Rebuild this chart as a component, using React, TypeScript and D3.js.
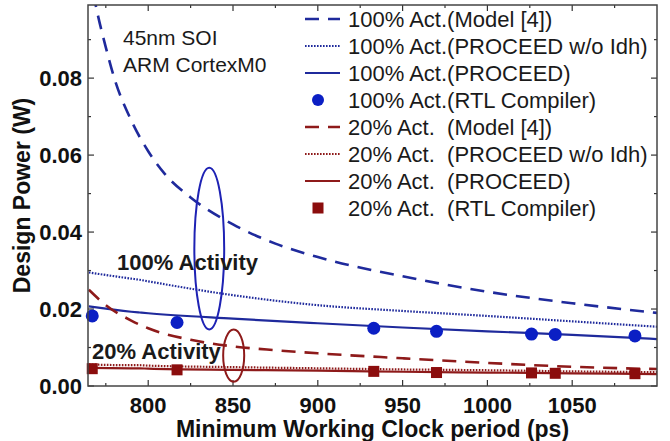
import React from "react";
import * as d3 from "d3";

// RTL compiler samples (clock period in ps, power in W)
const clockPs = [767, 817, 933, 970, 1026, 1040, 1087];
const rtl100 = [0.0182, 0.0165, 0.015, 0.0142, 0.0135, 0.0134, 0.013];
const rtl20 = [0.0045, 0.0042, 0.0038, 0.0035, 0.0034, 0.0033, 0.0032];

// model [4] curves
const modelX = [765, 770, 775, 780, 790, 800, 810, 825, 850, 875, 900, 950, 1000, 1050, 1100];
const model100 = [0.108, 0.097, 0.088, 0.08, 0.069, 0.061, 0.055, 0.049, 0.042, 0.037, 0.0335, 0.0285, 0.0245, 0.0215, 0.019];
const model20X = [765, 775, 790, 800, 825, 850, 875, 900, 950, 1000, 1050, 1100];
const model20 = [0.025, 0.021, 0.017, 0.015, 0.012, 0.0103, 0.0093, 0.0085, 0.0072, 0.006, 0.005, 0.0044];

// PROCEED curves
const proceedX = [765, 790, 795, 800, 850, 900, 950, 1000, 1050, 1100];
const noIdh100 = [0.0295, 0.0279, 0.0276, 0.0272, 0.0236, 0.021, 0.0195, 0.0182, 0.0168, 0.0154];
const proceed100 = [0.0207, 0.0193, 0.0191, 0.0189, 0.0175, 0.0163, 0.0152, 0.0142, 0.0133, 0.0122];
const noIdh20 = [0.0056, 0.0054, 0.0054, 0.0053, 0.0049, 0.0046, 0.0043, 0.0041, 0.0038, 0.0036];
const proceed20 = [0.0047, 0.0046, 0.0046, 0.0045, 0.0042, 0.004, 0.0037, 0.0035, 0.0033, 0.0031];

const xMajor = [800, 850, 900, 950, 1000, 1050];
const xMinor = [775, 825, 875, 925, 975, 1025, 1075];
const yMajor = [0, 0.02, 0.04, 0.06, 0.08];
const yMinor = [0.01, 0.03, 0.05, 0.07, 0.09];

const legendLabels = [
  "100% Act.(Model [4])",
  "100% Act.(PROCEED w/o Idh)",
  "100% Act.(PROCEED)",
  "100% Act.(RTL Compiler)",
  "20% Act.  (Model [4])",
  "20% Act.  (PROCEED w/o Idh)",
  "20% Act.  (PROCEED)",
  "20% Act.  (RTL Compiler)",
];
const legendKinds = ["dash", "dot", "solid", "circle", "dash", "dot", "solid", "square"];

const BLUE = "#1f2a9c";
const BLUE_PT = "#0b1fc4";
const RED = "#8e1a1a";
const FONT = "'Liberation Sans', Arial, sans-serif";

export default function App() {
  const W = 670;
  const H = 441;
  const m = { left: 88, right: 657, top: 5, bottom: 386 };

  const x = d3.scaleLinear().domain([764.5, 1100]).range([m.left, m.right]);
  const y = d3.scaleLinear().domain([0, 0.099]).range([m.bottom, m.top]);

  const line = (xs: number[], ys: number[]) =>
    d3
      .line<number>()
      .x((_, i) => x(xs[i]))
      .y((d) => y(d))
      .curve(d3.curveMonotoneX)(ys) || "";

  const styleOf = (kind: string, color: string) => {
    if (kind === "dash") return { stroke: color, strokeWidth: 2.6, strokeDasharray: "14,9" };
    if (kind === "dot") return { stroke: color, strokeWidth: 2.2, strokeDasharray: "1.6,1.4" };
    return { stroke: color, strokeWidth: 2.2 };
  };

  return (
    <svg width={W} height={H} style={{ position: "absolute", left: 0, top: 0, background: "#fff" }} fontFamily={FONT}>
      <defs>
        <clipPath id="plot">
          <rect x={m.left} y={m.top} width={m.right - m.left} height={m.bottom - m.top} />
        </clipPath>
      </defs>

      {/* ticks, inward on all four sides */}
      <g stroke="#333" strokeWidth={1.2}>
        {xMajor.map((v) => (
          <g key={"xM" + v}>
            <line x1={x(v)} x2={x(v)} y1={m.bottom} y2={m.bottom - 6} />
            <line x1={x(v)} x2={x(v)} y1={m.top} y2={m.top + 6} />
          </g>
        ))}
        {xMinor.map((v) => (
          <g key={"xm" + v}>
            <line x1={x(v)} x2={x(v)} y1={m.bottom} y2={m.bottom - 3} />
            <line x1={x(v)} x2={x(v)} y1={m.top} y2={m.top + 3} />
          </g>
        ))}
        {yMajor.map((v) => (
          <g key={"yM" + v}>
            <line x1={m.left} x2={m.left + 6} y1={y(v)} y2={y(v)} />
            <line x1={m.right} x2={m.right - 6} y1={y(v)} y2={y(v)} />
          </g>
        ))}
        {yMinor.map((v) => (
          <g key={"ym" + v}>
            <line x1={m.left} x2={m.left + 3} y1={y(v)} y2={y(v)} />
            <line x1={m.right} x2={m.right - 3} y1={y(v)} y2={y(v)} />
          </g>
        ))}
      </g>

      {/* curves */}
      <g clipPath="url(#plot)" fill="none">
        <path d={line(modelX, model100)} {...styleOf("dash", BLUE)} />
        <path d={line(proceedX, noIdh100)} {...styleOf("dot", BLUE)} />
        <path d={line(proceedX, proceed100)} {...styleOf("solid", BLUE)} />
        <path d={line(model20X, model20)} {...styleOf("dash", RED)} />
        <path d={line(proceedX, noIdh20)} {...styleOf("dot", RED)} />
        <path d={line(proceedX, proceed20)} {...styleOf("solid", RED)} />
      </g>

      {/* RTL compiler points */}
      <g>
        {clockPs.map((c, i) => (
          <circle key={"c" + i} cx={x(c)} cy={y(rtl100[i])} r={6.5} fill={BLUE_PT} />
        ))}
        {clockPs.map((c, i) => (
          <rect key={"s" + i} x={x(c) - 5.5} y={y(rtl20[i]) - 5.5} width={11} height={11} fill="#8b0d0d" />
        ))}
      </g>

      {/* annotations */}
      <ellipse cx={x(836)} cy={y(0.0357)} rx={x(836) - x(827.2)} ry={y(0) - y(0.021)} fill="none" stroke="#1e22b4" strokeWidth={2} />
      <ellipse cx={x(850.4)} cy={y(0.0079)} rx={x(850.4) - x(844.2)} ry={y(0) - y(0.0068)} fill="none" stroke={RED} strokeWidth={2} />
      <text x={117} y={270} fontSize={22} fontWeight="bold" fill="#1a1a1a">100% Activity</text>
      <text x={92} y={359} fontSize={22} fontWeight="bold" fill="#1a1a1a">20% Activity</text>
      <text x={123} y={45} fontSize={21} fill="#1a1a1a">45nm SOI</text>
      <text x={123} y={72} fontSize={21} fill="#1a1a1a">ARM CortexM0</text>

      {/* legend */}
      <g>
        {legendLabels.map((lab, i) => {
          const cy = 19 + i * 27;
          const color = i < 4 ? BLUE : RED;
          const kind = legendKinds[i];
          return (
            <g key={"lg" + i}>
              {kind === "circle" && <circle cx={318} cy={cy} r={6} fill={BLUE_PT} />}
              {kind === "square" && <rect x={312.5} y={cy - 5.5} width={11} height={11} fill="#8b0d0d" />}
              {kind !== "circle" && kind !== "square" && (
                <line x1={305} x2={340} y1={cy} y2={cy} {...styleOf(kind, color)} />
              )}
              <text x={348} y={cy + 8} fontSize={22} fill="#1a1a1a" style={{ whiteSpace: "pre" }}>
                {lab}
              </text>
            </g>
          );
        })}
      </g>

      {/* frame */}
      <rect x={m.left} y={m.top} width={m.right - m.left} height={m.bottom - m.top} fill="none" stroke="#444" strokeWidth={1.5} />

      {/* tick labels */}
      <g fontSize={22} fontWeight="bold" fill="#111">
        {xMajor.map((v) => (
          <text key={"xl" + v} x={x(v)} y={413} textAnchor="middle">{v}</text>
        ))}
        {yMajor.map((v) => (
          <text key={"yl" + v} x={82} y={y(v) + 8} textAnchor="end">{v.toFixed(2)}</text>
        ))}
      </g>

      {/* axis titles */}
      <text x={(m.left + m.right) / 2} y={437} textAnchor="middle" fontSize={23} fontWeight="bold" fill="#111">
        Minimum Working Clock period (ps)
      </text>
      <text transform={`translate(30,${(m.top + m.bottom) / 2}) rotate(-90)`} textAnchor="middle" fontSize={23} fontWeight="bold" fill="#111">
        Design Power (W)
      </text>
    </svg>
  );
}
